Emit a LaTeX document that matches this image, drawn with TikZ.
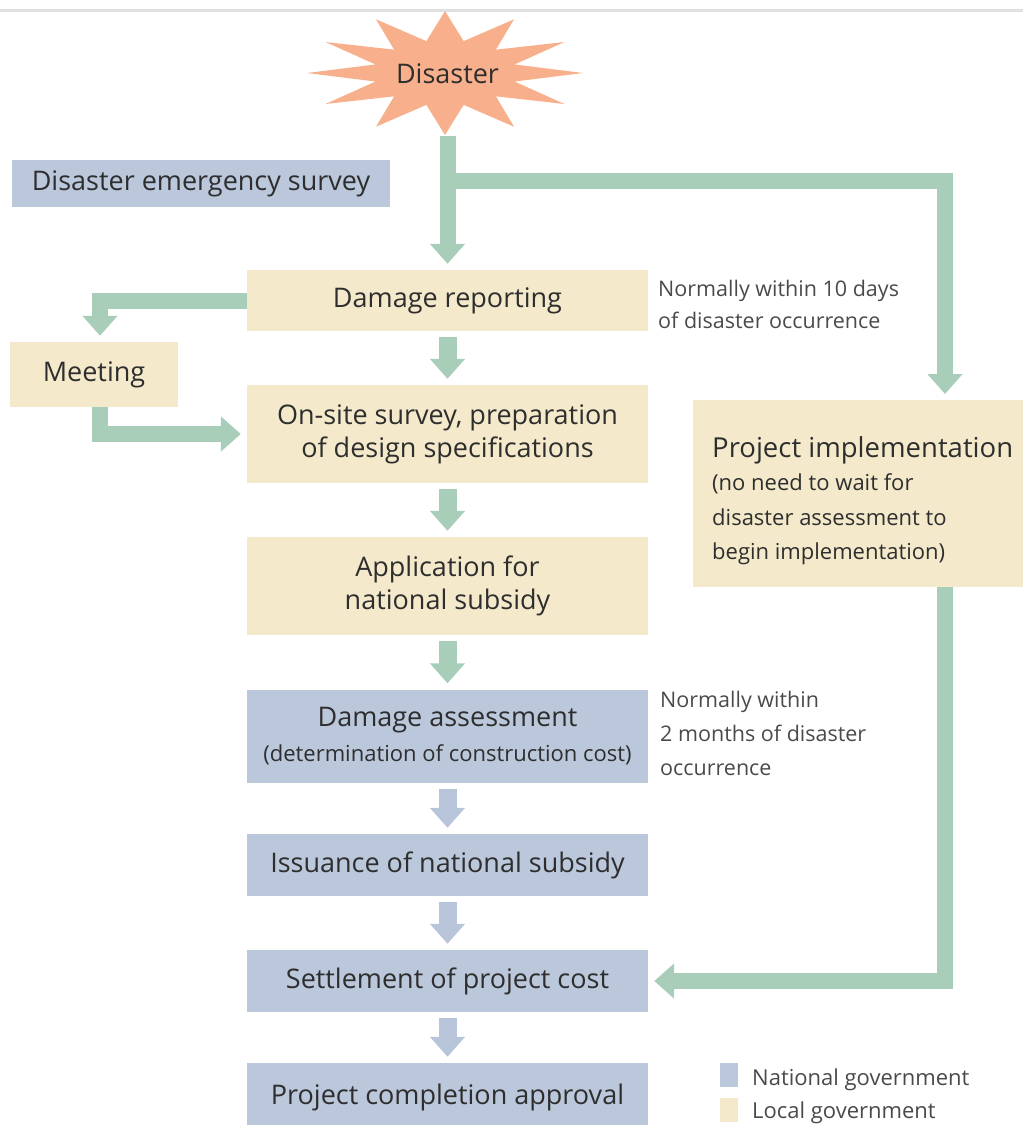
\documentclass[tikz,border=0pt]{standalone}
\usepackage{fontspec}
\setmainfont{Open Sans}
\usetikzlibrary{arrows.meta,calc}
\definecolor{tanbox}{HTML}{F4EACB}
\definecolor{bluebox}{HTML}{BBC7DB}
\definecolor{greenflow}{HTML}{A8CDB9}
\definecolor{blueflow}{HTML}{B7C4DA}
\definecolor{starfill}{HTML}{F8B08C}
\definecolor{ink}{HTML}{2E2E2E}
\definecolor{noteink}{HTML}{4A4A4A}
\tikzset{
  box/.style={rectangle, inner sep=0pt, text=ink, align=center,
    font=\fontsize{27}{33}\selectfont},
  localbox/.style={box, fill=tanbox},
  natbox/.style={box, fill=bluebox},
  note/.style={anchor=north west, inner sep=0pt, text=noteink, align=left,
    font=\fontsize{21.5}{34}\selectfont},
  gflow/.style={draw=greenflow, line width=16pt},
  garrow/.style={gflow, -{Triangle[width=34pt,length=20pt]}, shorten >=6pt},
  sgarrow/.style={draw=greenflow, line width=18pt, -{Triangle[width=34pt,length=20pt]}, shorten >=6pt, shorten <=6pt},
  sbarrow/.style={draw=blueflow, line width=18pt, -{Triangle[width=34pt,length=20pt]}, shorten >=6pt, shorten <=6pt},
}
\begin{document}
\begin{tikzpicture}[x=1pt, y=-1pt]
\useasboundingbox (0,0) rectangle (1023,1125);
% thin rule along the top edge
\draw[draw=black!12, line width=3pt] (0,10) -- (1023,10);

% the burst shape behind "Disaster"
\fill[starfill] plot[samples=25, domain=0:24, variable=\k]
  ({445+cos(90+\k*15)*ifthenelse(mod(\k,2)==0,138,72)},
   {73-sin(90+\k*15)*ifthenelse(mod(\k,2)==0,62,33)}) -- cycle;
\node[inner sep=0pt, minimum width=275pt, minimum height=123pt, text=ink,
  font=\fontsize{27}{30}\selectfont] (disaster) at (447.5,74) {Disaster};

% boxes
\node[natbox, minimum width=378pt, minimum height=47pt] (survey) at (201,183.5) {Disaster emergency survey};
\node[localbox, minimum width=401pt, minimum height=61pt] (dmg) at (447.5,300.5) {Damage reporting};
\node[localbox, minimum width=168pt, minimum height=65pt] (meet) at (94,374.5) {Meeting};
\node[localbox, minimum width=401pt, minimum height=98pt] (onsite) at (447.5,434) {On-site survey, preparation\\of design specifications};
\node[localbox, minimum width=401pt, minimum height=98pt] (app) at (447.5,586) {Application for\\national subsidy};
\node[natbox, minimum width=401pt, minimum height=93pt, font=\fontsize{27}{35}\selectfont] (assess) at (447.5,736)
  {Damage assessment\\\fontsize{22}{24}\selectfont (determination of construction cost)};
\node[natbox, minimum width=401pt, minimum height=62pt] (issue) at (447.5,865) {Issuance of national subsidy};
\node[natbox, minimum width=401pt, minimum height=62pt] (settle) at (447.5,981) {Settlement of project cost};
\node[natbox, minimum width=401pt, minimum height=68pt] (approve) at (447.5,1097) {Project completion approval};
\node[localbox, minimum width=340pt, minimum height=187pt, anchor=north west] (impl) at (693,400) {};
\node[anchor=north west, inner sep=0pt, align=left, text=ink, font=\fontsize{22}{34.5}\selectfont] (impltext) at (712,436)
  {\fontsize{27.5}{30}\selectfont Project implementation\\[-1pt]
   \fontsize{22}{34.5}\selectfont (no need to wait for\\disaster assessment to\\begin implementation)};

% notes
\node[note] (note1) at (658,280) {Normally within 10 days\\[-2pt]of disaster occurrence};
\node[note] (note2) at (660,691) {Normally within\\2 months of disaster\\occurrence};

% legend
\node[fill=bluebox, minimum width=18pt, minimum height=24pt, inner sep=0pt] (legnat) at (729,1075) {};
\node[fill=tanbox, minimum width=18pt, minimum height=24pt, inner sep=0pt] (legloc) at (729,1110) {};
\node[anchor=west, inner sep=0pt, text=noteink, font=\fontsize{22}{24}\selectfont] (legnattxt) at (752,1080) {National government};
\node[anchor=west, inner sep=0pt, text=noteink, font=\fontsize{22}{24}\selectfont] (leglocttxt) at (752,1113) {Local government};

% flow from the disaster
\coordinate (rcol) at (945,181);
\coordinate (fork) at (disaster.south |- rcol);
\draw[garrow] (disaster.south) -- (dmg.north);
\draw[garrow] (fork) -| (impl.north -| rcol);
\draw[garrow] (dmg.west) -| ([xshift=6pt]meet.north);
\draw[garrow] ([xshift=6pt]meet.south) |- (onsite.west);
\draw[garrow] (impl.south -| rcol) |- (settle.east);

% main sequence
\draw[sgarrow] (dmg.south) -- (onsite.north);
\draw[sgarrow] (onsite.south) -- (app.north);
\draw[sgarrow] (app.south) -- (assess.north);
\draw[sbarrow] (assess.south) -- (issue.north);
\draw[sbarrow] (issue.south) -- (settle.north);
\draw[sbarrow] (settle.south) -- (approve.north);
\end{tikzpicture}
\end{document}
